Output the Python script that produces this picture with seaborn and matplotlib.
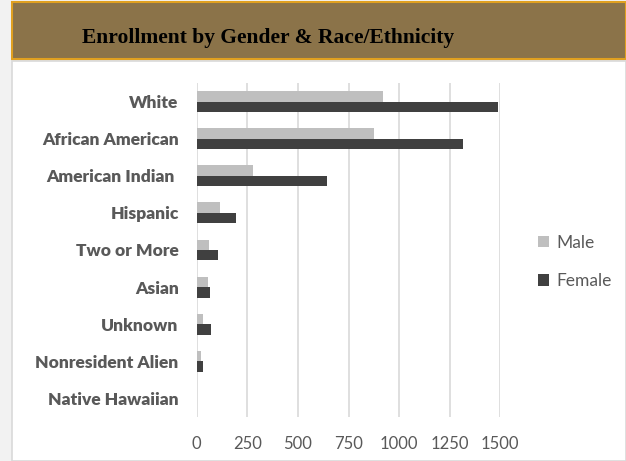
import pandas as pd
import numpy as np
import matplotlib
matplotlib.use('Agg')
import matplotlib.pyplot as plt
from matplotlib.patches import Rectangle
import seaborn as sns

categories = ['White', 'African American', 'American Indian ', 'Hispanic', 'Two or More',
              'Asian', 'Unknown', 'Nonresident Alien', 'Native Hawaiian']
male = [919, 878, 277, 117, 61, 54, 30, 23, 3]
female = [1487, 1314, 644, 196, 105, 64, 69, 31, 1]
series = ['Male', 'Female']
xticks = [0, 250, 500, 750, 1000, 1250, 1500]

df = pd.DataFrame({
    'category': categories * 2,
    'value': male + female,
    'gender': [series[0]] * len(categories) + [series[1]] * len(categories),
})

sns.set_theme(style='white')
plt.rcParams['font.family'] = ['Lato', 'DejaVu Sans']

W, H = 626, 461
fig = plt.figure(figsize=(W / 100, H / 100), dpi=100)
fig.patch.set_facecolor('#F2F2F2')

# white chart panel + header band
fig.patches.append(Rectangle((12 / W, 0), (W - 12) / W, 1 - 61 / H, transform=fig.transFigure,
                             facecolor='white', edgecolor='#D9D9D9', linewidth=1.2, zorder=0))
fig.patches.append(Rectangle((12 / W, 1 - 59 / H), (W - 12) / W, 57 / H, transform=fig.transFigure,
                             facecolor='#8B7349', edgecolor='#E0A020', linewidth=1.5, zorder=1))
fig.text(268 / W, 1 - 37.5 / H, 'Enrollment by Gender & Race/Ethnicity', ha='center', va='center',
         fontsize=15.5, fontweight='bold', family=['Liberation Serif', 'DejaVu Serif'], color='black')

ax = fig.add_axes([196.7 / W, 1 - 417 / H, (500.3 - 196.7) / W, (417 - 83) / H])
ax.set_zorder(3)
ax.patch.set_alpha(0)
sns.barplot(data=df, y='category', x='value', hue='gender', orient='h',
            palette={'Male': '#BFBFBF', 'Female': '#404040'}, width=0.56,
            saturation=1, linewidth=0, ax=ax, legend=True)

ax.set_xlim(0, 1500)
ax.set_xticks(xticks)
ax.set_xticklabels([str(t) for t in xticks])
ax.grid(True, axis='x', color='#D9D9D9', linewidth=1.2)
ax.set_axisbelow(True)
for s in ax.spines.values():
    s.set_visible(False)
ax.set_xlabel('')
ax.set_ylabel('')
ax.tick_params(axis='x', length=0, pad=14, labelsize=12, labelcolor='#595959')
ax.tick_params(axis='y', length=0, pad=13, labelsize=12.5, labelcolor='#595959')
for lbl in ax.get_yticklabels():
    lbl.set_fontweight('heavy')

leg = ax.legend(loc='center left', bbox_to_anchor=(522 / W, 1 - 262 / H), bbox_transform=fig.transFigure,
                frameon=False, fontsize=12.5, handlelength=0.65, handleheight=0.65, handletextpad=0.45,
                labelspacing=1.3)
for t in leg.get_texts():
    t.set_color('#595959')

fig.savefig('out.png', dpi=100, facecolor=fig.get_facecolor())
